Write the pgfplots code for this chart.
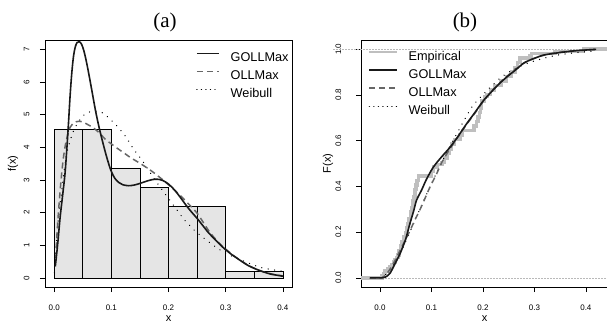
\documentclass[border=0pt]{standalone}
\usepackage{pgfplots}
\pgfplotsset{compat=1.18}
\usepackage{fontspec}
\setmainfont{Liberation Sans}
\newfontfamily\tnr{Liberation Serif}
\newcommand\lf{\fontsize{12.7}{14}\selectfont}
\pgfplotsset{rbase/.style={
  anchor=south west, scale only axis, width=247pt, height=247pt,
  axis line style={line width=0.7pt, black},
  tick align=outside, xtick pos=bottom, ytick pos=left, major tick length=5pt,
  every tick/.style={black, line width=0.6pt},
  tick label style={font=\fontsize{8}{9}\selectfont},
  /pgf/number format/assume math mode=true,
  xticklabel style={anchor=center, yshift=-15.7pt, /pgf/number format/.cd, fixed, fixed zerofill, precision=1},
  label style={font=\fontsize{11}{12}\selectfont},
  xlabel style={at={(axis description cs:0.5,-0.1296)}, anchor=center},
  legend cell align=left,
  every axis title shift=0pt,
}}
\begin{document}
\begin{tikzpicture}
\useasboundingbox (0pt,0pt) rectangle (607pt,324pt);
% ---------------- (a) ----------------
\begin{axis}[rbase, at={(45pt,37pt)},
  xmin=-0.016, xmax=0.416, ymin=-0.28, ymax=7.28,
  xtick={0,0.1,0.2,0.3,0.4}, ytick={0,1,2,3,4,5,6,7},
  yticklabel style={anchor=center, xshift=-13.3pt, rotate=90},
  xlabel={x}, ylabel={f(x)},
  ylabel style={at={(axis description cs:-0.1296,0.5)}, anchor=center},
  title={\tnr\fontsize{21}{24}\selectfont (a)},
  title style={at={(axis description cs:0.486,1.071)}, anchor=center, yshift=0pt},
  legend style={at={(axis description cs:0.611,0.95)}, anchor=north west, draw=none, fill=none,
    font=\lf, inner sep=0pt, row sep=8.7pt,
    nodes={inner sep=0pt, text height=8.6pt, text depth=0pt}},
  legend image code/.code={\draw[#1] (0pt,4.3pt) -- (22pt,4.3pt); \path (33pt,0pt);},
]
\addplot[ybar interval, fill=gray!20, draw=black, line width=0.6pt, forget plot] coordinates {
(0,4.554) (0.05,4.554) (0.1,3.366) (0.15,2.772) (0.2,2.178) (0.25,2.178) (0.3,0.198) (0.35,0.198) (0.4,0)};
% Weibull
\addplot[black, line width=1.4pt, line cap=round, dash pattern=on 0.01pt off 6.5pt, smooth, forget plot] coordinates {
(0.0005,0.15) (0.0017,0.54) (0.0076,1.86) (0.0134,2.68) (0.022,3.8) (0.034,4.5) (0.048,4.91) (0.06,5.07) (0.073,5.1) (0.086,5.04)
(0.1066,4.71) (0.124,4.35) (0.1386,3.95) (0.156,3.54) (0.179,2.93) (0.2026,2.37) (0.2288,1.76) (0.249,1.40) (0.278,1.0)
(0.3017,0.74) (0.339,0.46) (0.363,0.31) (0.389,0.23) (0.4,0.2)};
% OLLMax
\addplot[gray!80!black, line width=1.5pt, dash pattern=on 6pt off 4pt, smooth, forget plot] coordinates {
(0.003,0.6) (0.0047,1.25) (0.0075,2.0) (0.0105,2.68) (0.0135,3.25) (0.0163,3.69) (0.02,4.1) (0.024,4.4) (0.028,4.61) (0.035,4.75)
(0.0425,4.79) (0.05,4.77) (0.06,4.68) (0.0687,4.59) (0.08,4.42) (0.089,4.25) (0.1,4.1) (0.11,3.97) (0.12,3.85) (0.1328,3.69)
(0.145,3.56) (0.156,3.44) (0.1735,3.23) (0.19,3.0) (0.2,2.85) (0.217,2.58) (0.2375,2.22) (0.25,1.98) (0.26,1.72) (0.27,1.45)
(0.28,1.23) (0.29,1.04) (0.3,0.88) (0.32,0.6) (0.34,0.38) (0.36,0.22) (0.38,0.12) (0.4,0.06)};
% GOLLMax
\addplot[black!90, line width=1.6pt, smooth, forget plot] coordinates {
(0.002,0.35) (0.006,1.0) (0.0105,1.86) (0.015,2.55) (0.019,3.19) (0.022,3.9) (0.025,4.71) (0.028,5.6) (0.031,6.3) (0.034,6.8)
(0.037,7.07) (0.040,7.2) (0.044,7.23) (0.048,7.15) (0.052,6.95) (0.056,6.65) (0.060,6.3) (0.066,5.73) (0.072,5.15) (0.078,4.65)
(0.085,4.15) (0.092,3.69) (0.099,3.3) (0.106,3.05) (0.113,2.92) (0.12,2.85) (0.13,2.82) (0.14,2.84) (0.15,2.89) (0.16,2.95)
(0.17,3.0) (0.18,3.02) (0.19,2.98) (0.2,2.87) (0.21,2.7) (0.22,2.48) (0.23,2.24) (0.24,2.02) (0.25,1.82) (0.26,1.6) (0.27,1.38)
(0.28,1.2) (0.29,1.02) (0.3,0.86) (0.31,0.72) (0.32,0.6) (0.33,0.48) (0.34,0.37) (0.35,0.29) (0.36,0.22) (0.37,0.16) (0.38,0.11)
(0.39,0.08) (0.4,0.05)};
\addlegendimage{black!90, line width=1.6pt}
\addlegendentry{\lf GOLLMax}
\addlegendimage{gray!80!black, line width=1.5pt, dash pattern=on 6pt off 4pt}
\addlegendentry{\lf OLLMax}
\addlegendimage{black, line width=1.4pt, line cap=round, dash pattern=on 0.01pt off 4.5pt}
\addlegendentry{\lf Weibull}
\end{axis}
% ---------------- (b) ----------------
\begin{axis}[rbase, at={(361pt,37pt)}, clip=false,
  xmin=-0.037, xmax=0.443, ymin=-0.04, ymax=1.04,
  xtick={0,0.1,0.2,0.3,0.4}, ytick={0,0.2,0.4,0.6,0.8,1.0},
  yticklabel style={anchor=center, xshift=-17.7pt, rotate=90, /pgf/number format/.cd, fixed, fixed zerofill, precision=1},
  xlabel={x}, ylabel={F(x)},
  ylabel style={at={(axis description cs:-0.1336,0.5)}, anchor=center},
  title={\tnr\fontsize{21}{24}\selectfont (b)},
  title style={at={(axis description cs:0.421,1.071)}, anchor=center, yshift=0pt},
  legend style={at={(axis description cs:0.028,0.957)}, anchor=north west, draw=none, fill=none,
    font=\lf, inner sep=0pt, row sep=8.7pt,
    nodes={inner sep=0pt, text height=8.6pt, text depth=0pt}},
  legend image code/.code={\draw[#1] (0pt,4.3pt) -- (28pt,4.3pt); \path (38pt,0pt);},
]
\addplot[gray!55, line width=0.6pt, dash pattern=on 1.5pt off 1.5pt, forget plot] coordinates {(-0.091,1) (0.443,1)};
\addplot[gray!55, line width=0.6pt, dash pattern=on 1.5pt off 1.5pt, forget plot] coordinates {(-0.037,0) (0.443,0)};
% Empirical
\addplot[gray!50, line width=3.5pt, const plot, forget plot] coordinates {
(-0.037,0) (0.004,0.0099) (0.007,0.0198) (0.010,0.0297) (0.015,0.0396) (0.019,0.0495) (0.022,0.0594) (0.026,0.0693)
(0.029,0.0792) (0.032,0.0891) (0.035,0.0990) (0.037,0.1188) (0.040,0.1386) (0.043,0.1584) (0.046,0.1782) (0.049,0.1980)
(0.051,0.2178) (0.053,0.2376) (0.056,0.2574) (0.059,0.2871) (0.0615,0.3069) (0.064,0.3366) (0.066,0.3564) (0.068,0.3861)
(0.070,0.4059) (0.072,0.4257) (0.0745,0.4455) (0.100,0.4653) (0.1035,0.4851) (0.112,0.4950) (0.120,0.5050) (0.125,0.5248)
(0.130,0.5446) (0.135,0.5644) (0.139,0.5842) (0.145,0.6040) (0.155,0.6238) (0.160,0.6436) (0.183,0.6634) (0.187,0.6832)
(0.190,0.7030) (0.193,0.7228) (0.195,0.7426) (0.197,0.7723) (0.203,0.7921) (0.208,0.8020) (0.215,0.8218) (0.222,0.8416)
(0.235,0.8614) (0.246,0.8812) (0.255,0.9010) (0.262,0.9208) (0.267,0.9406) (0.272,0.9604) (0.291,0.9703) (0.294,0.9802)
(0.340,0.9901) (0.395,1.0) (0.443,1.0)};
% Weibull
\addplot[black, line width=1.4pt, line cap=round, dash pattern=on 0.01pt off 6.5pt, smooth, forget plot] coordinates {
(0.0,0) (0.01,0.012) (0.02,0.035) (0.03,0.07) (0.04,0.112) (0.05,0.16) (0.06,0.21) (0.07,0.262) (0.08,0.313) (0.09,0.363)
(0.1,0.412) (0.11,0.46) (0.12,0.505) (0.136,0.575) (0.152,0.642) (0.165,0.695) (0.181,0.755) (0.204,0.81) (0.223,0.852)
(0.236,0.878) (0.26,0.912) (0.285,0.937) (0.31,0.955) (0.34,0.972) (0.37,0.982) (0.405,0.99) (0.42,0.993)};
% OLLMax
\addplot[gray!80!black, line width=1.5pt, dash pattern=on 6pt off 4pt, smooth, forget plot] coordinates {
(-0.02,0) (0.003,0) (0.01,0.01) (0.02,0.04) (0.03,0.08) (0.04,0.125) (0.05,0.17) (0.058,0.205) (0.066,0.245) (0.0744,0.283)
(0.084,0.33) (0.097,0.397) (0.11,0.455) (0.12,0.505) (0.136,0.565) (0.152,0.618) (0.168,0.67) (0.185,0.722) (0.2,0.77)
(0.217,0.815) (0.233,0.852) (0.25,0.888) (0.265,0.915) (0.28,0.94) (0.3,0.96) (0.32,0.975) (0.35,0.987) (0.38,0.994) (0.42,0.999)};
% GOLLMax
\addplot[black!90, line width=1.6pt, smooth, forget plot] coordinates {
(-0.02,0) (0.005,0) (0.010,0.003) (0.015,0.01) (0.020,0.022) (0.026,0.048) (0.032,0.075) (0.039,0.106) (0.045,0.14)
(0.050,0.17) (0.058,0.237) (0.065,0.29) (0.071,0.34) (0.081,0.385) (0.090,0.43) (0.1035,0.484) (0.12,0.53) (0.136,0.571)
(0.152,0.62) (0.168,0.673) (0.185,0.725) (0.2006,0.774) (0.217,0.815) (0.233,0.852) (0.25,0.885) (0.265,0.912) (0.28,0.94)
(0.30,0.96) (0.32,0.975) (0.35,0.985) (0.38,0.993) (0.42,0.999)};
\addlegendimage{gray!50, line width=2.5pt}
\addlegendentry{\lf Empirical}
\addlegendimage{black!90, line width=1.6pt}
\addlegendentry{\lf GOLLMax}
\addlegendimage{gray!80!black, line width=1.5pt, dash pattern=on 6pt off 4pt}
\addlegendentry{\lf OLLMax}
\addlegendimage{black, line width=1.4pt, line cap=round, dash pattern=on 0.01pt off 4.5pt}
\addlegendentry{\lf Weibull}
\end{axis}
\end{tikzpicture}
\end{document}
